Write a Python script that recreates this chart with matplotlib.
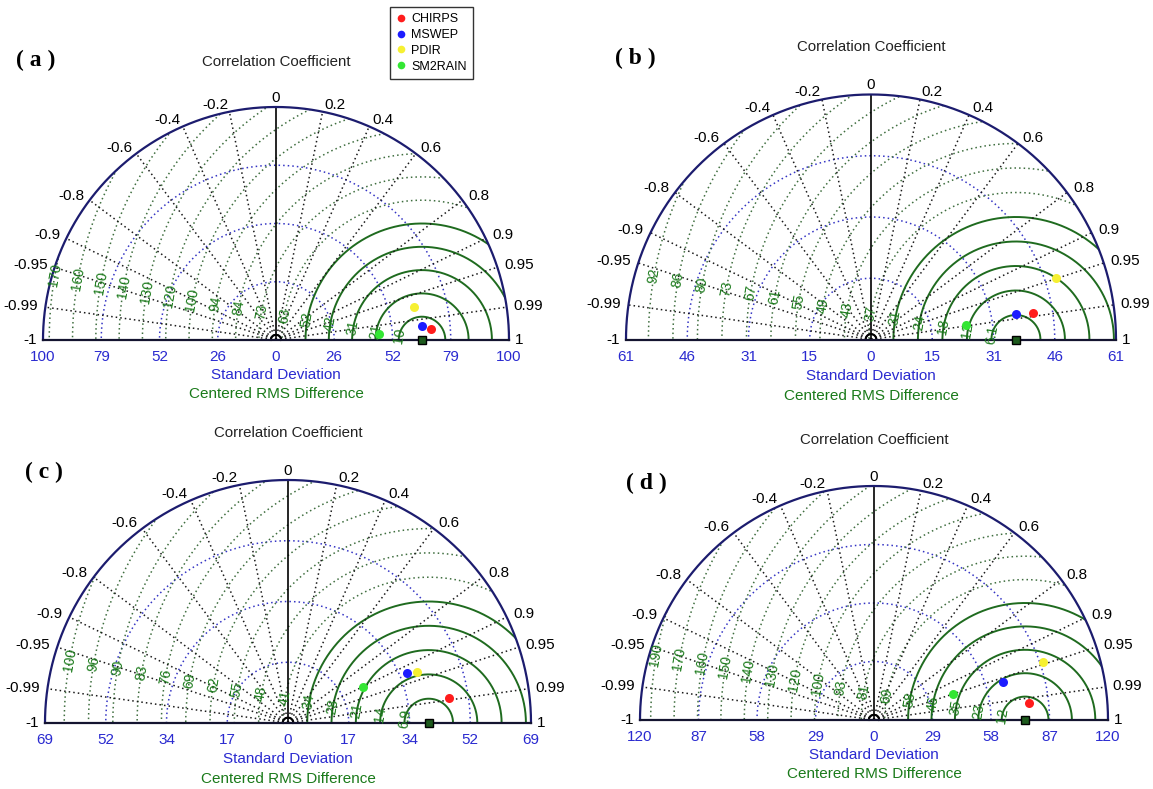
import numpy as np
import matplotlib
matplotlib.use('Agg')
import matplotlib.pyplot as plt
from matplotlib.patches import Wedge
from matplotlib.lines import Line2D

plt.rcParams['font.family'] = ['Liberation Sans', 'DejaVu Sans']

# ---- data ----
products = ['CHIRPS', 'MSWEP', 'PDIR', 'SM2RAIN']
prod_colors = ['#ff1c1c', '#1c1cff', '#f6f032', '#33e633']

panels = ['a', 'b', 'c', 'd']
smax = [105.0, 61.2, 68.9, 116.0]          # std axis maximum per panel
ref_std = [65.8, 36.2, 39.9, 74.9]         # observed (reference) std

std_a = [70.2, 66.3, 64.0, 46.5]
corr_a = [0.9975, 0.9955, 0.972, 0.9985]
std_b = [41.1, 36.8, 48.7, 24.0]
corr_b = [0.987, 0.985, 0.949, 0.9886]
std_c = [46.3, 36.5, 39.3, 23.6]
corr_c = [0.988, 0.923, 0.929, 0.900]
std_d = [77.5, 66.5, 88.4, 41.3]
corr_d = [0.994, 0.959, 0.946, 0.951]

std_ticklabels = [['26', '52', '79', '100'],
                  ['15', '31', '46', '61'],
                  ['17', '34', '52', '69'],
                  ['29', '58', '87', '120']]

rms_labels = [['10', '21', '31', '42', '52', '63', '73', '84', '94', '100',
               '120', '130', '140', '150', '160', '170'],
              ['6.1', '12', '18', '24', '31', '37', '43', '49', '55', '61',
               '67', '73', '80', '86', '92'],
              ['6.9', '14', '21', '28', '34', '41', '48', '55', '62', '69',
               '76', '83', '90', '96', '100'],
              ['12', '23', '35', '46', '58', '69', '81', '93', '100', '120',
               '130', '140', '150', '160', '170', '190']]

corr_grid = [0.2, 0.4, 0.6, 0.8, 0.9, 0.95, 0.99]
corr_ticks = [-1, -0.99, -0.95, -0.9, -0.8, -0.6, -0.4, -0.2, 0,
              0.2, 0.4, 0.6, 0.8, 0.9, 0.95, 0.99, 1]

all_std = [std_a, std_b, std_c, std_d]
all_corr = [corr_a, corr_b, corr_c, corr_d]

# ---- layout (pixels): origin x, origin y, radius ----
W, H = 1153, 789
boxes = [(276, 340, 233), (871, 339.5, 245), (288, 723, 243), (874, 720, 234)]
letter_pos = [(36, 60), (635, 58), (44, 472), (646, 483)]

BLUE_TXT = '#2a2ad0'
GREEN_TXT = '#1a7a1a'
DOT = (0, (1, 2))

fig = plt.figure(figsize=(W / 100, H / 100), dpi=100)


def taylor(ax, sm, ref, std, corr, slabels, rlabels):
    ax.set_xlim(-sm, sm)
    ax.set_ylim(0, sm)
    ax.axis('off')
    t = np.linspace(0, np.pi, 500)

    # std circles (blue dotted)
    for f in (0.25, 0.5, 0.75):
        ax.plot(f * sm * np.cos(t), f * sm * np.sin(t), ls=DOT,
                color='#3434c4', lw=1.1)

    # centered RMS circles around the reference point
    clip = Wedge((0, 0), sm, 0, 180, transform=ax.transData)
    step = sm / 10.0
    a = np.deg2rad(170)
    for k, lab in enumerate(rlabels, start=1):
        r = k * step
        if k <= 5:
            ln, = ax.plot(ref + r * np.cos(t), r * np.sin(t), color='#1f6b1f',
                          lw=1.4)
        else:
            ln, = ax.plot(ref + r * np.cos(t), r * np.sin(t), ls=DOT,
                          color='#3f6e3f', lw=1.1)
        ln.set_clip_path(clip)
        ax.text(ref + r * np.cos(a), r * np.sin(a), lab, rotation=80,
                ha='center', va='center', color=GREEN_TXT, fontsize=10)

    # correlation radial lines
    for c in corr_grid:
        for s in (1, -1):
            th = np.arccos(s * c)
            ax.plot([0, sm * np.cos(th)], [0, sm * np.sin(th)], ls=DOT,
                    color='#1a1a1a', lw=1.1)
    ax.plot([0, 0], [0, sm], color='black', lw=1.2)
    ax.plot(0.022 * sm * np.cos(t), 0.022 * sm * np.sin(t), color='black',
            lw=1.5, clip_on=False)

    # frame
    ax.plot(sm * np.cos(t), sm * np.sin(t), color='#1c1c6e', lw=1.6,
            clip_on=False)
    ax.plot([-sm, sm], [0, 0], color='#141430', lw=1.6, clip_on=False)

    # correlation labels
    for c in corr_ticks:
        th = np.arccos(c)
        lab = '%g' % c
        if c == 0:
            ax.text(0, 1.01 * sm, lab, ha='center', va='bottom', fontsize=11)
        elif abs(c) == 1:
            ax.text(c * 1.025 * sm, 0.0, lab, ha='left' if c > 0 else 'right',
                    va='center', fontsize=11)
        else:
            ax.text(1.03 * sm * np.cos(th), 1.03 * sm * np.sin(th), lab,
                    ha='left' if c > 0 else 'right', va='center', fontsize=11)

    # std tick labels
    ax.text(0, -0.072 * sm, '0', ha='center', va='center', color=BLUE_TXT,
            fontsize=11)
    for i, lab in enumerate(slabels, start=1):
        for s in (1, -1):
            ax.text(s * 0.25 * i * sm, -0.072 * sm, lab, ha='center',
                    va='center', color=BLUE_TXT, fontsize=11)

    ax.text(0, -0.15 * sm, 'Standard Deviation', ha='center', va='center',
            color=BLUE_TXT, fontsize=11)
    ax.text(0, -0.23 * sm, 'Centered RMS Difference', ha='center',
            va='center', color=GREEN_TXT, fontsize=11)
    ax.text(0, 1.195 * sm, 'Correlation Coefficient', ha='center',
            va='center', color='#222222', fontsize=10.8)

    # reference point
    ax.plot([ref], [0], 's', color='#1d5a1d', mec='black', ms=5.5,
            clip_on=False, zorder=6)

    # products
    std = np.array(std)
    th = np.arccos(np.array(corr))
    for x, y, col in zip(std * np.cos(th), std * np.sin(th), prod_colors):
        ax.plot(x, y, 'o', color=col, ms=6.5, mec='none', zorder=7,
                clip_on=False)


for i, p in enumerate(panels):
    ox, oy, R = boxes[i]
    ax = fig.add_axes([(ox - R) / W, 1 - oy / H, 2 * R / W, R / H])
    taylor(ax, smax[i], ref_std[i], all_std[i], all_corr[i],
           std_ticklabels[i], rms_labels[i])
    lx, ly = letter_pos[i]
    fig.text(lx / W, 1 - ly / H, '( %s )' % p, ha='center', va='center',
             fontfamily='Liberation Serif', fontweight='bold', fontsize=17)

handles = [Line2D([], [], ls='none', marker='o', color=c, mec='none',
                  markersize=5.5) for c in prod_colors]
leg = fig.legend(handles, products, loc='upper left',
                 bbox_to_anchor=(390 / W, 1 - 7 / H),
                 bbox_transform=fig.transFigure, frameon=True, fancybox=False,
                 edgecolor='black', fontsize=9, handlelength=0.7,
                 handletextpad=0.5, labelspacing=0.3, borderpad=0.5,
                 borderaxespad=0)
leg.get_frame().set_linewidth(1.0)

fig.savefig('out.png', dpi=100)
